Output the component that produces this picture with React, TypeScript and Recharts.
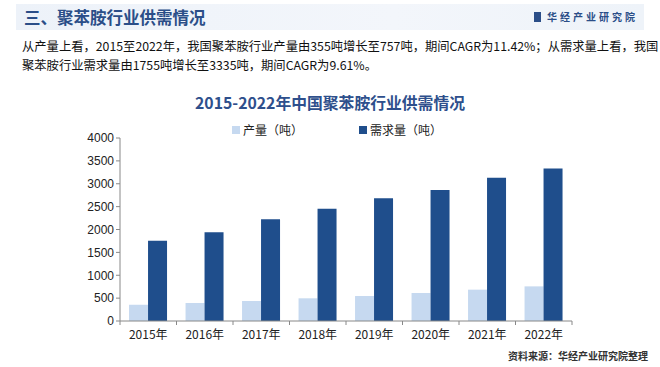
import { Bar, BarChart, XAxis, YAxis } from "recharts";

const years = ["2015年", "2016年", "2017年", "2018年", "2019年", "2020年", "2021年", "2022年"];
const output = [355, 393, 437, 496, 546, 612, 685, 757];
const demand = [1755, 1939, 2223, 2455, 2682, 2863, 3133, 3335];
const yTicks = [0, 500, 1000, 1500, 2000, 2500, 3000, 3500, 4000];

const data = years.map((year, i) => ({ year, output: output[i], demand: demand[i] }));

const LIGHT = "#c6d9f0";
const DARK = "#1f4e8c";
const CJK = '"Noto Sans CJK SC", "Noto Sans", sans-serif';

const CHART_W = 660;
const CHART_H = 367;
const Y_W = 60;
const MARGIN = { top: 138, right: 88, bottom: 16, left: 60 };
const band = (CHART_W - MARGIN.left - Y_W - MARGIN.right) / years.length;

const XTick = (props: any) => {
  const { x, y, payload, index } = props;
  const left = x - band / 2;
  return (
    <g>
      <line x1={left} y1={y - 8} x2={left} y2={y - 4} stroke="#888" />
      {index === years.length - 1 && (
        <line x1={left + band} y1={y - 8} x2={left + band} y2={y - 4} stroke="#888" />
      )}
      <text x={x} y={y + 10} textAnchor="middle" fontSize={12} fill="#222" fontFamily={CJK}>
        {payload.value}
      </text>
    </g>
  );
};

const App = () => {
  return (
    <div style={{ position: "absolute", left: 0, top: 0, width: CHART_W, height: CHART_H, background: "#fff", overflow: "hidden" }}>
      {/* header band */}
      <div
        style={{
          position: "absolute",
          left: 16,
          top: 4,
          width: 628,
          height: 26,
          background: "linear-gradient(90deg, #edf2f9 0%, #f3f6fb 60%, #eef3f9 100%)",
        }}
      />
      <div style={{ position: "absolute", left: 24, top: 5, fontFamily: CJK, fontSize: 16.5, fontWeight: 700, color: "#2b4e88", lineHeight: "24px" }}>
        三、聚苯胺行业供需情况
      </div>
      <div style={{ position: "absolute", right: 22, top: 10, fontFamily: CJK, fontSize: 10, fontWeight: 700, color: "#2b4e88", letterSpacing: 3, lineHeight: "14px", display: "flex", alignItems: "center" }}>
        <span style={{ display: "inline-block", width: 7, height: 10, background: "#2b4e88", marginRight: 6 }} />
        华经产业研究院
      </div>
      <div style={{ position: "absolute", left: 22, top: 37, fontFamily: CJK, fontSize: 12.3, color: "#111", lineHeight: "19px", letterSpacing: 0, whiteSpace: "nowrap" }}>
        从产量上看，2015至2022年，我国聚苯胺行业产量由355吨增长至757吨，期间CAGR为11.42%；从需求量上看，我国
        <br />
        聚苯胺行业需求量由1755吨增长至3335吨，期间CAGR为9.61%。
      </div>
      <div style={{ position: "absolute", left: 0, top: 91, width: CHART_W, textAlign: "center", fontFamily: CJK, fontSize: 15.8, fontWeight: 700, color: "#2e4f8c", lineHeight: "24px" }}>
        2015-2022年中国聚苯胺行业供需情况
      </div>
      {/* legend */}
      <div style={{ position: "absolute", left: 232, top: 122, fontFamily: CJK, fontSize: 12, color: "#222", display: "flex", alignItems: "center", lineHeight: "16px" }}>
        <span style={{ display: "inline-block", width: 8, height: 8, background: LIGHT, marginRight: 3 }} />
        <span>产量（吨）</span>
        <span style={{ display: "inline-block", width: 8, height: 8, background: DARK, marginLeft: 56, marginRight: 3 }} />
        <span>需求量（吨）</span>
      </div>
      <div style={{ position: "absolute", left: 0, top: 0 }}>
        <BarChart width={CHART_W} height={CHART_H} data={data} margin={MARGIN} barGap={0} barCategoryGap="16%">
          <XAxis dataKey="year" stroke="#888" tickLine={false} tick={<XTick />} interval={0} />
          <YAxis
            domain={[0, 4000]}
            ticks={yTicks}
            stroke="#888"
            tickSize={4}
            width={Y_W}
            interval={0}
            tick={{ fill: "#222", fontSize: 12, fontFamily: "Liberation Sans, Arial, sans-serif" }}
          />
          <Bar dataKey="output" fill={LIGHT} isAnimationActive={false} />
          <Bar dataKey="demand" fill={DARK} isAnimationActive={false} />
        </BarChart>
      </div>
      <div style={{ position: "absolute", right: 12, top: 349, fontFamily: CJK, fontSize: 10, fontWeight: 700, color: "#333", lineHeight: "14px" }}>
        资料来源：华经产业研究院整理
      </div>
    </div>
  );
};

export default App;
